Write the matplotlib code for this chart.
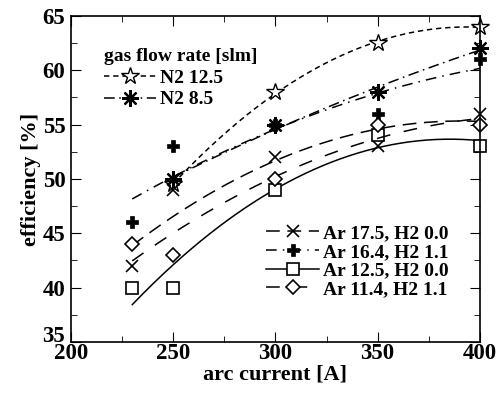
import numpy as np
import matplotlib
matplotlib.use("Agg")
import matplotlib.pyplot as plt

plt.rcParams['font.family'] = ['Liberation Serif', 'DejaVu Serif']
plt.rcParams['font.weight'] = 'bold'

# arc current [A]
current_ar = [230, 250, 300, 350, 400]
current_n2 = [250, 300, 350, 400]

# efficiency [%]
n2_125 = [49.5, 58.0, 62.5, 64.0]
n2_85 = [50.0, 55.0, 58.0, 62.0]
ar175_h00 = [42.0, 49.0, 52.0, 53.0, 56.0]
ar164_h11 = [46.0, 53.0, 55.0, 56.0, 61.0]
ar125_h00 = [40.0, 40.0, 49.0, 54.0, 53.0]
ar114_h11 = [44.0, 43.0, 50.0, 55.0, 55.0]

n2_labels = ['N2 12.5', 'N2 8.5']
ar_labels = ['Ar 17.5, H2 0.0', 'Ar 16.4, H2 1.1', 'Ar 12.5, H2 0.0', 'Ar 11.4, H2 1.1']

fig = plt.figure(figsize=(5.03, 3.97), dpi=100)
ax = fig.add_axes([0.141, 0.1385, 0.813, 0.8215])


def fit_plot(x, y, marker, dashes, ms=9, mfc='white', mew=1.2):
    # quadratic fit drawn over the measured points
    xs = np.linspace(x[0], x[-1], 200)
    c = np.polyfit(x, y, 2)
    ax.plot(xs, np.polyval(c, xs), color='black', lw=1.1, dashes=dashes)
    ax.plot(x, y, linestyle='none', marker=marker, ms=ms, mfc=mfc,
            mec='black', mew=mew, clip_on=False)
    h, = ax.plot([], [], color='black', lw=1.1, dashes=dashes, marker=marker,
                 ms=ms, mfc=mfc, mec='black', mew=mew)
    return h


h1 = fit_plot(current_n2, n2_125, '*', (3.5, 2.5), ms=13, mew=1.0)
h2 = fit_plot(current_n2, n2_85, (8, 2, 0), (7, 3, 1, 3), ms=12, mew=1.6)
h3 = fit_plot(current_ar, ar175_h00, 'x', (9, 5), ms=9)
h4 = fit_plot(current_ar, ar164_h11, 'P', (7, 4, 1, 4), ms=9, mfc='black', mew=0.5)
h5 = fit_plot(current_ar, ar125_h00, 's', (None, None), ms=8)
h6 = fit_plot(current_ar, ar114_h11, 'D', (9, 9), ms=7)
h5.set_linestyle('-')

ax.set_xlim(200, 400)
ax.set_ylim(35, 65)
ax.set_xticks([200, 250, 300, 350, 400])
ax.set_yticks([35, 40, 45, 50, 55, 60, 65])
ax.set_xticks(np.arange(200, 401, 25), minor=True)
ax.set_yticks(np.arange(35, 66, 2.5), minor=True)
ax.tick_params(which='both', direction='in', top=True, right=True, labelsize=16.5)
ax.tick_params(which='major', length=7)
ax.tick_params(which='minor', length=4)
ax.tick_params(axis='x', pad=1)
ax.tick_params(axis='y', pad=4)
ax.get_yticklabels()[0].set_va('baseline')
ax.set_xlabel('arc current [A]', fontsize=16, fontweight='bold', labelpad=0)
ax.set_ylabel('efficiency [%]', fontsize=16, fontweight='bold', labelpad=1)
for s in ax.spines.values():
    s.set_linewidth(1.2)

leg1 = ax.legend([h1, h2], n2_labels, title='gas flow rate [slm]', loc='upper left',
                 bbox_to_anchor=(0.056, 0.93), frameon=False, fontsize=14,
                 title_fontproperties={'weight': 'bold', 'size': 14},
                 handlelength=2.7, handletextpad=0.2, labelspacing=0.2,
                 borderpad=0, alignment='left')
ax.add_artist(leg1)
ax.legend([h3, h4, h5, h6], ar_labels, loc='lower right', bbox_to_anchor=(0.947, 0.105),
          frameon=False, fontsize=14, handlelength=2.7, handletextpad=0.2,
          labelspacing=0.05, borderpad=0)

fig.savefig('out.png', dpi=100)
